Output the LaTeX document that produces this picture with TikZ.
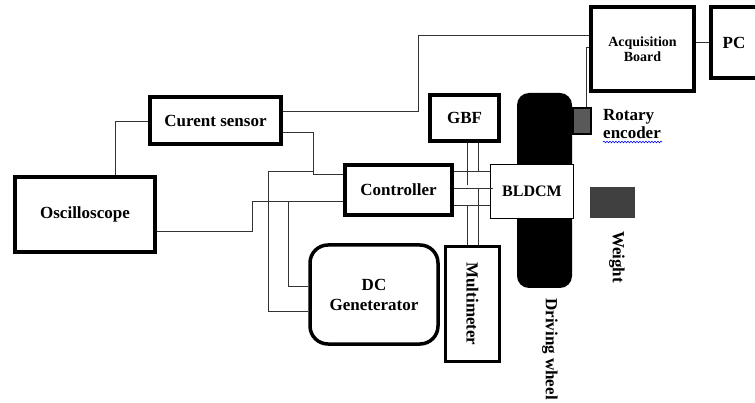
\documentclass[tikz,border=0pt]{standalone}
\usepackage{fontspec}
\setmainfont{Liberation Serif}
\usetikzlibrary{decorations.pathmorphing}
\begin{document}
\begin{tikzpicture}[x=1pt,y=-1pt,
  lbl/.style={font=\fontsize{17}{20}\selectfont\bfseries},
  blk/.style={draw, line width=4pt, inner sep=0pt, lbl},
  wire/.style={draw=black!80, line width=1pt}]
\useasboundingbox (0,0) rectangle (755,403);
\clip (0,0) rectangle (755,403);
% blocks
\node[blk, minimum width=140pt, minimum height=75pt] (osc) at (85,214.5) {Oscilloscope};
\node[blk, minimum width=131pt, minimum height=47pt] (cs) at (215.5,120.5) {Curent sensor};
\node[blk, minimum width=107pt, minimum height=50pt] (ctrl) at (398.5,190) {Controller};
\node[blk, minimum width=69pt, minimum height=46pt] (gbf) at (464.5,118) {GBF};
\node[blk, minimum width=103pt, minimum height=84pt, font=\fontsize{14}{15.5}\selectfont\bfseries, align=center] (acq) at (642.5,49) {Acquisition\\Board};
\node[blk, minimum width=46pt, minimum height=71pt] (pc) at (734,42.5) {PC};
\node[draw, line width=3.5pt, rounded corners=18pt, minimum width=128pt, minimum height=99pt, inner sep=0pt, lbl, align=center] (dcg) at (374,294.5) {DC\\Geneterator};
\node[draw, line width=3pt, minimum width=54pt, minimum height=115pt, inner sep=0pt] (mm) at (472.5,304) {};
\node[lbl, rotate=-90, inner sep=0pt] (mmtext) at (mm.center) {Multimeter};
% driving wheel, motor, encoder, weight
\node[fill=black, rounded corners=12pt, minimum width=55pt, minimum height=195pt, inner sep=0pt] (wheel) at (544.5,190.5) {};
\node[draw, fill=white, line width=1.2pt, minimum width=83pt, minimum height=54pt, inner sep=0pt, font=\fontsize{16}{19}\selectfont\bfseries] (bldcm) at (532,191.5) {BLDCM};
\node[draw, line width=2pt, fill=black!65, minimum width=18pt, minimum height=26pt, inner sep=0pt] (enc) at (582,121) {};
\node[fill=black!75, minimum width=45pt, minimum height=31pt, inner sep=0pt] (wt) at (612.5,202.5) {};
\node[font=\fontsize{17}{18}\selectfont\bfseries, anchor=west, align=left, inner sep=0pt] (enctext) at (603,124) {Rotary\\encoder};
\draw[blue, line width=0.6pt, decorate, decoration={snake, amplitude=0.8pt, segment length=3pt}] (603,142) -- (662,142);
\node[lbl, rotate=-90, inner sep=0pt] (wttext) at (617,257) {Weight};
\node[lbl, rotate=-90, inner sep=0pt] (dwtext) at (550,349) {Driving wheel};
% wires
\coordinate (a1) at (115,122);
\draw[wire] (osc.north -| a1) -- (a1) -- (cs.west |- a1);
\coordinate (b1) at (418,112); \coordinate (b2) at (418,36);
\draw[wire] (cs.east |- b1) -- (b1) -- (b2) -- (acq.west |- b2);
\coordinate (c1) at (313,133); \coordinate (c2) at (313,175);
\draw[wire] (cs.east |- c1) -- (c1) -- (c2) -- (ctrl.west |- c2);
\coordinate (d1) at (268,172); \coordinate (d2) at (268,312);
\draw[wire] (c2 |- d1) -- (d1) -- (d2) -- (dcg.west |- d2);
\coordinate (e1) at (252,202); \coordinate (e2) at (252,232);
\draw[wire] (ctrl.west |- e1) -- (e1) -- (e2) -- (osc.east |- e2);
\coordinate (f1) at (288,202); \coordinate (f2) at (288,287);
\draw[wire] (f1) -- (f2) -- (dcg.west |- f2);
\coordinate (g1) at (470,172); \coordinate (g2) at (470,189); \coordinate (g3) at (470,206);
\draw[wire] (ctrl.east |- g1) -- (bldcm.west |- g1);
\draw[wire] (ctrl.east |- g2) -- ([xshift=3pt]bldcm.west |- g2);
\draw[wire] (ctrl.east |- g3) -- (bldcm.west |- g3);
\coordinate (h1) at (467,185); \coordinate (h2) at (478,172);
\draw[wire] (gbf.south -| h1) -- (h1);
\draw[wire] (gbf.south -| h2) -- (h2);
\coordinate (k1) at (467,206); \coordinate (k2) at (478,189);
\draw[wire] (k1) -- (mm.north -| k1);
\draw[wire] (k2) -- (mm.north -| k2);
\coordinate (m1) at (586,48);
\draw[wire] (enc.north -| m1) -- (m1) -- (acq.west |- m1);
\coordinate (n1) at (700,43);
\draw[wire] (acq.east |- n1) -- (pc.west |- n1);
\end{tikzpicture}
\end{document}
